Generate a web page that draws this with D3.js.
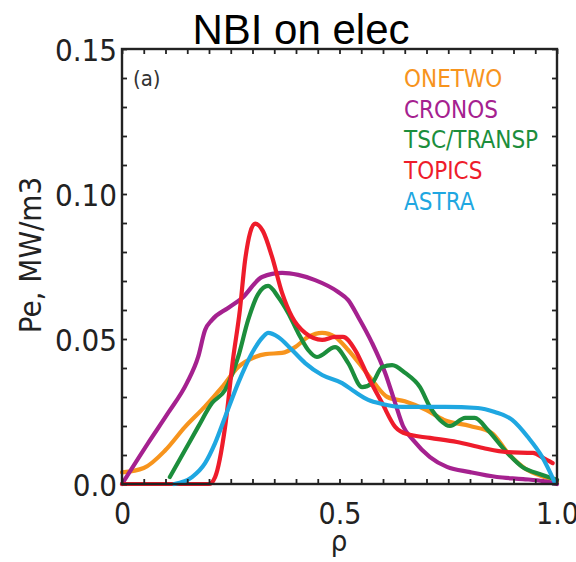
<!DOCTYPE html>
<html>
<head>
<meta charset="utf-8">
<script src="https://cdn.jsdelivr.net/npm/d3@7"></script>
<style>
  html, body { margin: 0; padding: 0; background: #fff; }
  svg { display: block; }
</style>
</head>
<body>
<svg id="chart" width="576" height="562"></svg>
<script>
// ---------------- data ----------------
const seriesNames = ["ONETWO", "CRONOS", "TSC/TRANSP", "TOPICS", "ASTRA"];
const seriesColors = ["#F7941D", "#A5218F", "#1C8E3C", "#EE1C2B", "#1FA7E1"];

const onetwoRho = [0, 0.05, 0.1, 0.145, 0.19, 0.23, 0.267, 0.306, 0.33, 0.368, 0.398, 0.428, 0.46, 0.49, 0.52, 0.552, 0.58, 0.61, 0.65, 0.70, 0.74, 0.80, 0.85, 0.887, 0.93, 0.96, 1.0];
const onetwoVal = [0.004, 0.0055, 0.0117, 0.0197, 0.0266, 0.0334, 0.0403, 0.0438, 0.0448, 0.0452, 0.0472, 0.0507, 0.0521, 0.0507, 0.0462, 0.0403, 0.0348, 0.0300, 0.0285, 0.0255, 0.0221, 0.0200, 0.0176, 0.0107, 0.0050, 0.0030, 0.0010];

const cronosRho = [0, 0.06, 0.106, 0.149, 0.175, 0.191, 0.207, 0.244, 0.276, 0.322, 0.368, 0.405, 0.444, 0.497, 0.52, 0.543, 0.575, 0.605, 0.628, 0.646, 0.669, 0.708, 0.747, 0.8, 0.862, 0.922, 0.968, 1.0];
const cronosVal = [0, 0.0141, 0.0245, 0.0348, 0.0438, 0.0531, 0.0566, 0.0607, 0.0641, 0.0714, 0.0728, 0.0721, 0.0703, 0.0662, 0.0634, 0.0576, 0.0486, 0.0383, 0.0279, 0.0200, 0.0152, 0.0093, 0.0059, 0.0041, 0.0024, 0.0017, 0.0010, 0.0];

const tscRho = [0.11, 0.145, 0.175, 0.207, 0.237, 0.267, 0.29, 0.313, 0.336, 0.359, 0.382, 0.405, 0.428, 0.448, 0.49, 0.52, 0.552, 0.575, 0.598, 0.621, 0.651, 0.685, 0.708, 0.731, 0.754, 0.789, 0.811, 0.841, 0.88, 0.92, 0.963, 1.0];
const tscVal = [0.0024, 0.0117, 0.0197, 0.0279, 0.0324, 0.0438, 0.0566, 0.0655, 0.0683, 0.0645, 0.0590, 0.0521, 0.0462, 0.0438, 0.0472, 0.0417, 0.0334, 0.0348, 0.0403, 0.0410, 0.0383, 0.0334, 0.0266, 0.0221, 0.0200, 0.0228, 0.0228, 0.0186, 0.0117, 0.0059, 0.0033, 0.0015];

const topicsRho = [0, 0.2, 0.214, 0.237, 0.255, 0.271, 0.283, 0.306, 0.324, 0.345, 0.368, 0.391, 0.421, 0.46, 0.49, 0.508, 0.536, 0.566, 0.598, 0.628, 0.655, 0.708, 0.77, 0.83, 0.885, 0.945, 0.968, 0.99];
const topicsVal = [0, 0, 0.0024, 0.0197, 0.0428, 0.0600, 0.0772, 0.0898, 0.0872, 0.0783, 0.0659, 0.0576, 0.0521, 0.0497, 0.0507, 0.0507, 0.0462, 0.0369, 0.0279, 0.0197, 0.0172, 0.0159, 0.0145, 0.0124, 0.0110, 0.0107, 0.0090, 0.0072];

const astraRho = [0.12, 0.161, 0.191, 0.214, 0.237, 0.267, 0.299, 0.324, 0.336, 0.359, 0.391, 0.421, 0.46, 0.506, 0.536, 0.566, 0.598, 0.644, 0.743, 0.818, 0.857, 0.897, 0.933, 0.966, 0.995];
const astraVal = [0, 0.0024, 0.0072, 0.0141, 0.0231, 0.0348, 0.0452, 0.0507, 0.0521, 0.0507, 0.0462, 0.0417, 0.0376, 0.0348, 0.0317, 0.0290, 0.0276, 0.0266, 0.0266, 0.0262, 0.0248, 0.0221, 0.0162, 0.0093, 0.0005];

const xTickValues = [0, 0.5, 1.0];
const xTickLabels = ["0", "0.5", "1.0"];
const yTickValues = [0, 0.05, 0.10, 0.15];
const yTickLabels = ["0.0", "0.05", "0.10", "0.15"];

const titleText = "NBI on elec";
const xLabel = "\u03c1";
const yLabel = "Pe, MW/m3";
const panelLabel = "(a)";

// ---------------- layout ----------------
const svg = d3.select("#chart");
const pLeft = 122, pRight = 557, pTop = 49, pBottom = 484;
const x = d3.scaleLinear().domain([0, 1]).range([pLeft, pRight]);
const y = d3.scaleLinear().domain([0, 0.15]).range([pBottom, pTop]);

const tickFont = "'Liberation Sans Narrow', 'DejaVu Sans Condensed', 'Liberation Sans', sans-serif";

const series = [
  { rho: onetwoRho, val: onetwoVal },
  { rho: cronosRho, val: cronosVal },
  { rho: tscRho, val: tscVal },
  { rho: topicsRho, val: topicsVal },
  { rho: astraRho, val: astraVal }
].map((s, i) => ({
  name: seriesNames[i],
  color: seriesColors[i],
  points: s.rho.map((r, j) => [r, s.val[j]])
}));

// ---------------- lines ----------------
const line = d3.line()
  .x(d => x(d[0]))
  .y(d => y(d[1]))
  .curve(d3.curveMonotoneX);

svg.append("g")
  .selectAll("path")
  .data(series)
  .join("path")
  .attr("d", d => line(d.points))
  .attr("fill", "none")
  .attr("stroke", d => d.color)
  .attr("stroke-width", 4.2)
  .attr("stroke-linejoin", "round")
  .attr("stroke-linecap", "round");

// ---------------- axes / ticks ----------------
const minorX = d3.range(0, 1.0001, 0.05);
const minorY = d3.range(0, 0.15001, 0.01);
const tickLen = 5;

function styleTicks(g) {
  g.select(".domain").remove();
  g.selectAll("line").attr("stroke", "#222").attr("stroke-width", 1.8);
}

svg.append("g").attr("transform", `translate(0,${pBottom})`)
  .call(d3.axisBottom(x).tickValues(minorX).tickFormat("").tickSize(-tickLen))
  .call(styleTicks);
svg.append("g").attr("transform", `translate(0,${pTop})`)
  .call(d3.axisTop(x).tickValues(minorX).tickFormat("").tickSize(-tickLen))
  .call(styleTicks);
svg.append("g").attr("transform", `translate(${pLeft},0)`)
  .call(d3.axisLeft(y).tickValues(minorY).tickFormat("").tickSize(-tickLen))
  .call(styleTicks);
svg.append("g").attr("transform", `translate(${pRight},0)`)
  .call(d3.axisRight(y).tickValues(minorY).tickFormat("").tickSize(-tickLen))
  .call(styleTicks);

// frame
svg.append("rect")
  .attr("x", pLeft).attr("y", pTop)
  .attr("width", pRight - pLeft).attr("height", pBottom - pTop)
  .attr("fill", "none").attr("stroke", "#222").attr("stroke-width", 2.4);

// labelled axes
const yAxisLab = svg.append("g").attr("transform", `translate(${pLeft},0)`)
  .call(d3.axisLeft(y).tickValues(yTickValues)
    .tickFormat((d, i) => yTickLabels[i]).tickSize(0).tickPadding(5));
yAxisLab.select(".domain").remove();
yAxisLab.selectAll("text")
  .attr("font-family", tickFont).attr("font-size", 31).attr("fill", "#222")
  .attr("dy", "0.36em");

const xAxisLab = svg.append("g").attr("transform", `translate(0,${pBottom})`)
  .call(d3.axisBottom(x).tickValues(xTickValues)
    .tickFormat((d, i) => xTickLabels[i]).tickSize(0).tickPadding(19));
xAxisLab.select(".domain").remove();
xAxisLab.selectAll("text")
  .attr("font-family", tickFont).attr("font-size", 30).attr("fill", "#222");

// ---------------- texts ----------------
svg.append("text")
  .attr("x", 301).attr("y", 44)
  .attr("text-anchor", "middle")
  .attr("font-family", "'Liberation Sans', Arial, sans-serif")
  .attr("font-size", 42)
  .attr("fill", "#000")
  .text(titleText);

svg.append("text")
  .attr("x", 339).attr("y", 551)
  .attr("text-anchor", "middle")
  .attr("font-family", tickFont)
  .attr("font-size", 29)
  .attr("fill", "#222")
  .text(xLabel);

svg.append("text")
  .attr("transform", "translate(41,255) rotate(-90)")
  .attr("text-anchor", "middle")
  .attr("font-family", tickFont)
  .attr("font-size", 31)
  .attr("fill", "#222")
  .text(yLabel);

svg.append("text")
  .attr("x", 133).attr("y", 86)
  .attr("font-family", tickFont)
  .attr("font-size", 22)
  .attr("fill", "#333")
  .text(panelLabel);

// legend
svg.append("g")
  .selectAll("text")
  .data(series)
  .join("text")
  .attr("x", 404)
  .attr("y", (d, i) => 87 + i * 30.7)
  .attr("font-family", tickFont)
  .attr("font-size", 24)
  .attr("fill", d => d.color)
  .text(d => d.name);
</script>
</body>
</html>
